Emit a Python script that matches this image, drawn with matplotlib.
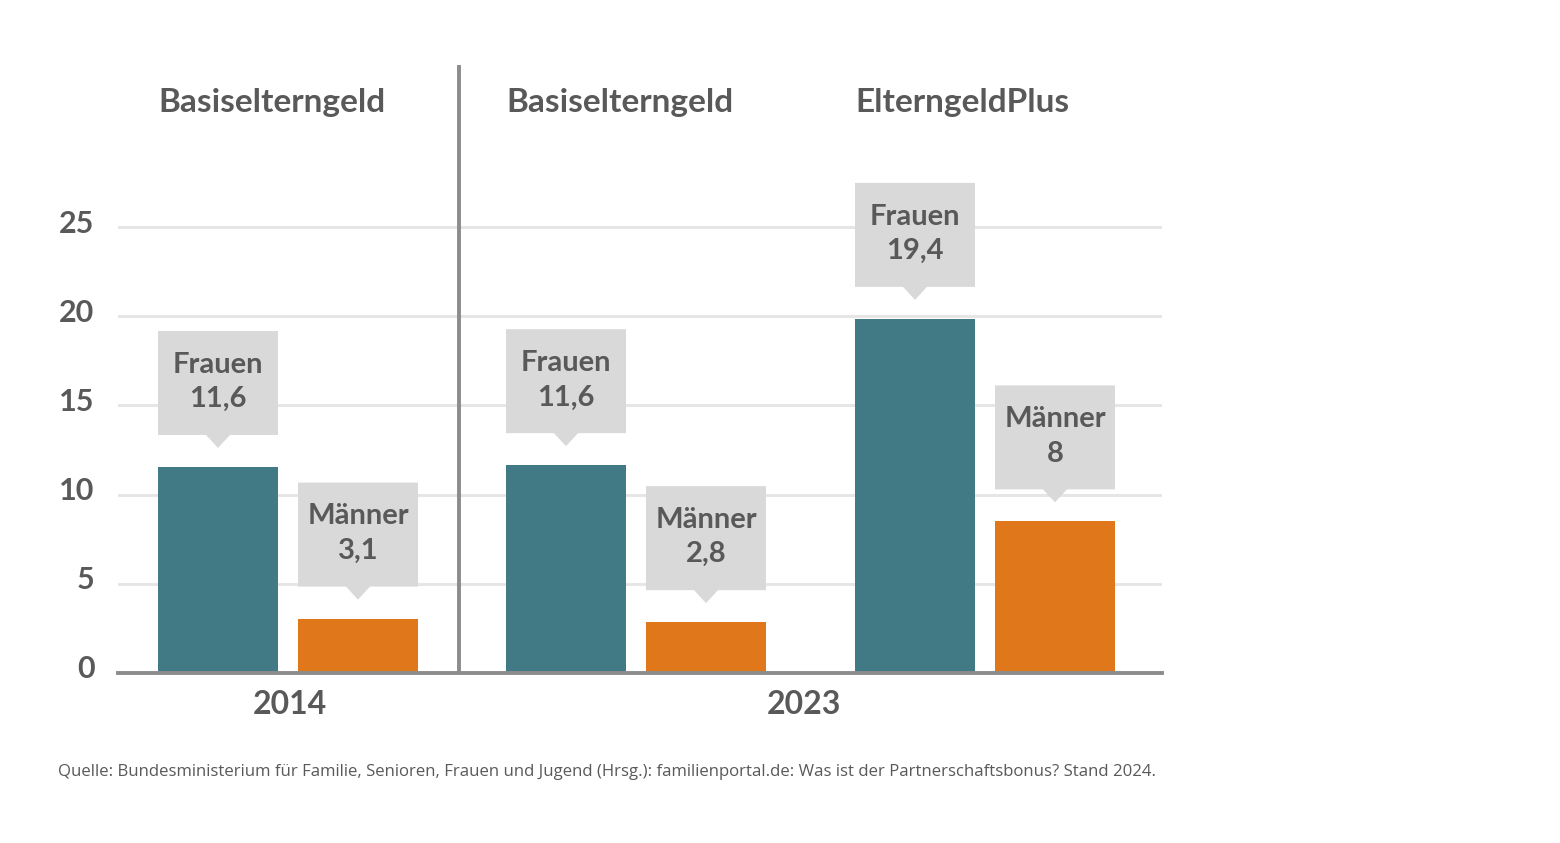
import matplotlib.pyplot as plt
from matplotlib.patches import Polygon
import matplotlib.transforms as mtransforms

# Daten (Balkenhöhen, Beschriftungen wie im Bild)
gruppen = ['Basiselterngeld', 'Basiselterngeld', 'ElterngeldPlus']
jahre = ['2014', '2023']
frauen_hoehe = [11.55, 11.65, 19.85]
maenner_hoehe = [3.05, 2.85, 8.5]
frauen_label = ['11,6', '11,6', '19,4']
maenner_label = ['3,1', '2,8', '8']
y_ticks = [0, 5, 10, 15, 20, 25]

teal = '#417a85'
orange = '#e0771a'
grau_text = '#595959'
box_grau = '#d9d9d9'
linie_grau = '#8c8c8c'

plt.rcParams['font.family'] = ['Lato', 'DejaVu Sans']

W, H = 1560, 843
fig = plt.figure(figsize=(W / 100, H / 100), dpi=100)

# Achse in Pixel-Layout: x 118..1162, y 0 bei 673, oben bei 65
ax_l, ax_r, ax_b, ax_t = 118, 1162, 673, 65
ax = fig.add_axes([ax_l / W, (H - ax_b) / H, (ax_r - ax_l) / W, (ax_b - ax_t) / H])
px_per_unit = 17.84
ax.set_xlim(ax_l, ax_r)
ax.set_ylim(0, (ax_b - ax_t) / px_per_unit)

# Layout der Gruppen (linke Kante des Frauen-Balkens) in Pixeln
bar_w = 120
gap = 20
gruppen_start = [158, 506, 855]

for y in y_ticks[1:]:
    ax.axhline(y, color='#e6e6e6', lw=2.2, zorder=0)

def py(px):
    return px / px_per_unit

def sprechblase(xc, top, text):
    # graue Box mit Spitze nach unten über dem Balken
    b0 = top + py(32)
    b1 = b0 + py(104)
    tip = b0 - py(13)
    pts = [(xc - bar_w / 2, b0), (xc - 12, b0), (xc, tip), (xc + 12, b0),
           (xc + bar_w / 2, b0), (xc + bar_w / 2, b1), (xc - bar_w / 2, b1)]
    ax.add_patch(Polygon(pts, closed=True, facecolor=box_grau, edgecolor='none', zorder=3))
    ax.text(xc, (b0 + b1) / 2 + py(1), text, ha='center', va='center', fontsize=21,
            fontweight='bold', color=grau_text, linespacing=1.4, zorder=4)

for i, start in enumerate(gruppen_start):
    xf = start + bar_w / 2
    xm = start + bar_w + gap + bar_w / 2
    ax.bar(xf, frauen_hoehe[i], width=bar_w, color=teal, zorder=2)
    ax.bar(xm, maenner_hoehe[i], width=bar_w, color=orange, zorder=2)
    sprechblase(xf, frauen_hoehe[i], 'Frauen\n' + frauen_label[i])
    sprechblase(xm, maenner_hoehe[i], 'Männer\n' + maenner_label[i])
    ax.text(start, py(ax_b - 102), gruppen[i], ha='left', va='center', fontsize=24,
            fontweight='bold', color=grau_text)

# Trennlinie zwischen den Jahren
ax.axvline(459, color=linie_grau, lw=2.8, zorder=5)
ax.axhline(0, color=linie_grau, lw=2.8, zorder=5, clip_on=False)

# Jahre
ax.text(290, py(-31), jahre[0], ha='center', va='center', fontsize=23,
        fontweight='bold', color=grau_text, clip_on=False)
ax.text(804, py(-31), jahre[1], ha='center', va='center', fontsize=23,
        fontweight='bold', color=grau_text, clip_on=False)

ax.set_yticks(y_ticks)
ax.set_yticklabels([str(t) for t in y_ticks], fontsize=22, fontweight='bold', color=grau_text)
ax.tick_params(axis='y', length=0, pad=17)
verschiebung = mtransforms.ScaledTranslation(0, 6 / 100, fig.dpi_scale_trans)
for lbl in ax.get_yticklabels():
    lbl.set_transform(lbl.get_transform() + verschiebung)
ax.set_xticks([])
for s in ax.spines.values():
    s.set_visible(False)

fig.text(58 / W, 1 - 772 / H, 'Quelle: Bundesministerium für Familie, Senioren, Frauen und Jugend (Hrsg.): '
         'familienportal.de: Was ist der Partnerschaftsbonus? Stand 2024.',
         ha='left', va='center', fontsize=12.1, color=grau_text, family=['Open Sans', 'DejaVu Sans'])

fig.savefig('out.png', dpi=100)
